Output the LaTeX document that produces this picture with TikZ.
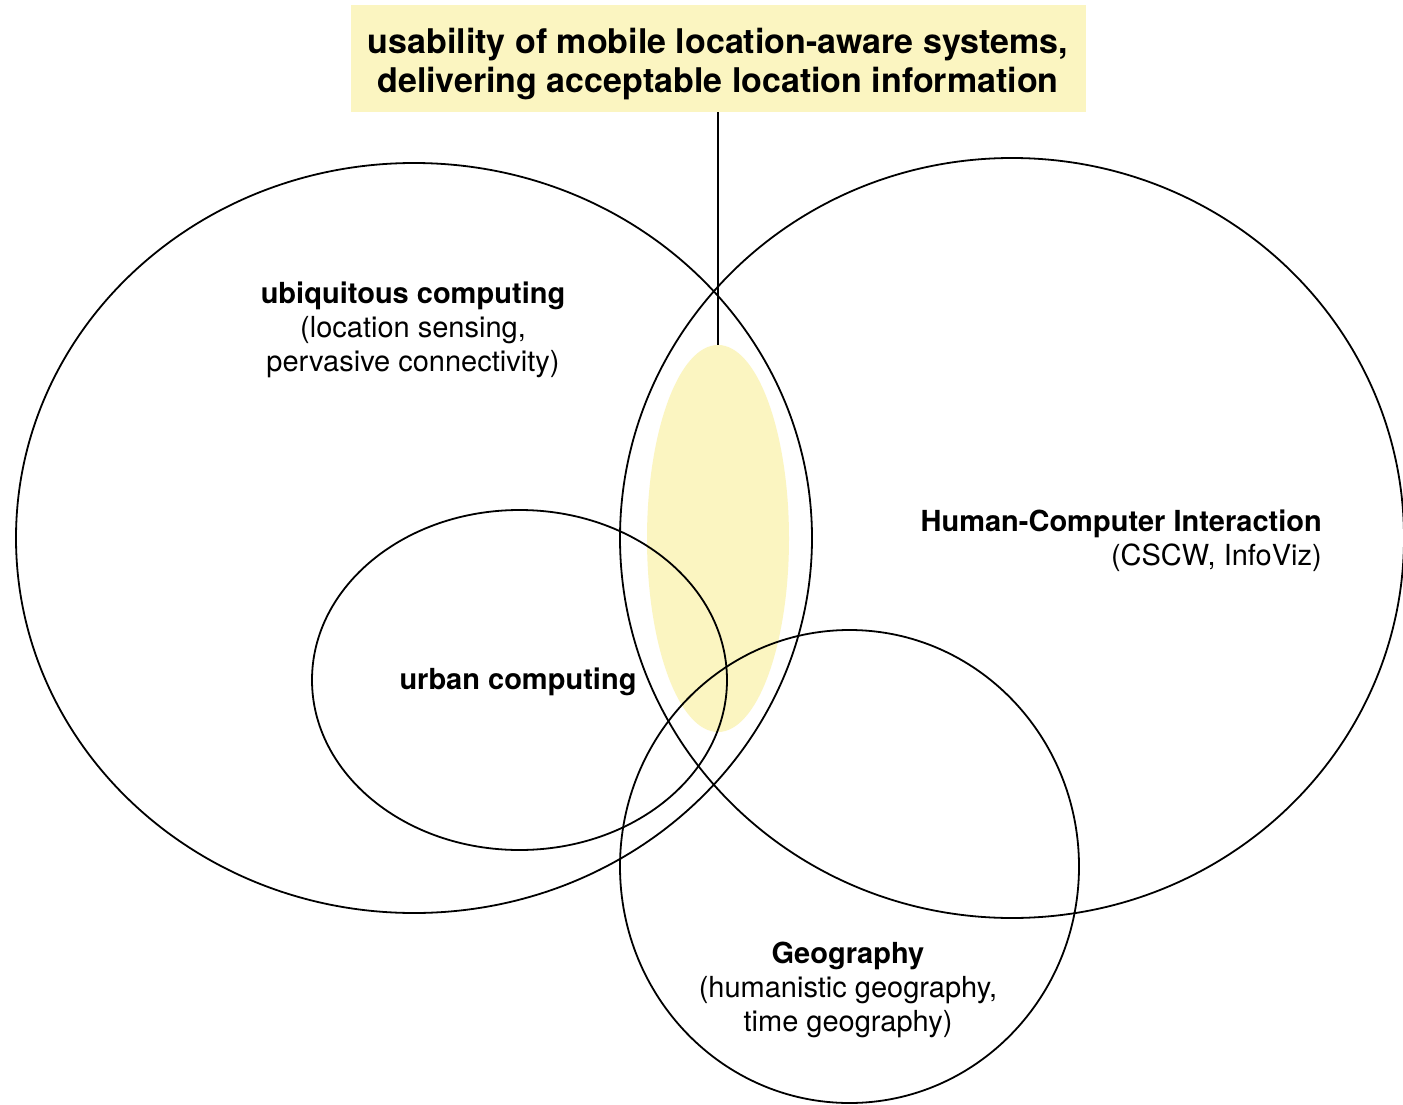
\documentclass[tikz,border=0pt]{standalone}
\usepackage{fontspec}
\setmainfont{TeX Gyre Heros}
\usetikzlibrary{shapes.geometric}
\definecolor{hilite}{RGB}{251,245,193}
\tikzset{
  ring/.style={draw=black, line width=1.8pt, ellipse, inner sep=0pt},
  lbl/.style={align=center, font=\fontsize{29}{34}\selectfont, inner sep=0pt},
  topbox/.style={fill=hilite, draw=none, inner sep=0pt,
    minimum width=735pt, minimum height=107pt},
  toptext/.style={align=center, inner sep=0pt,
    font=\fontsize{34}{39.5}\selectfont\bfseries}
}
\begin{document}
\begin{tikzpicture}[x=1pt,y=-1pt]
\useasboundingbox (0,0) rectangle (1403,1105);
\fill[white] (0,0) rectangle (1403,1105);
% highlighted intersection
\node[ellipse, fill=hilite, draw=none, inner sep=0pt, minimum width=142pt, minimum height=387pt] (yel) at (718,538.5) {};
% top label
\node[topbox] (top) at (718,58.5) {};
\node[toptext] (toptxt) at (718,64) {usability of mobile location-aware systems,\\delivering acceptable location information};
% sets
\node[ring, minimum width=796pt, minimum height=750pt] (ubi) at (414,538) {};
\node[ring, minimum width=784pt, minimum height=760pt] (hci) at (1012,538) {};
\node[ring, minimum width=415pt, minimum height=340pt] (urb) at (519.5,680) {};
\node[ring, minimum width=459pt, minimum height=473pt] (geo) at (849.5,866.5) {};
% connector
\draw[line width=1.8pt] (top.south) -- (yel.north);
% labels
\node[lbl] (ubilbl) at (413,330) {\textbf{ubiquitous computing}\\(location sensing,\\pervasive connectivity)};
\node[lbl, align=right, anchor=east] (hcilbl) at (1322,541) {\textbf{Human-Computer Interaction}\\(CSCW, InfoViz)};
\node[lbl] (urblbl) at (518,682) {\textbf{urban computing}};
\node[lbl] (geolbl) at (848,989.5) {\textbf{Geography}\\(humanistic geography,\\time geography)};
\end{tikzpicture}
\end{document}
